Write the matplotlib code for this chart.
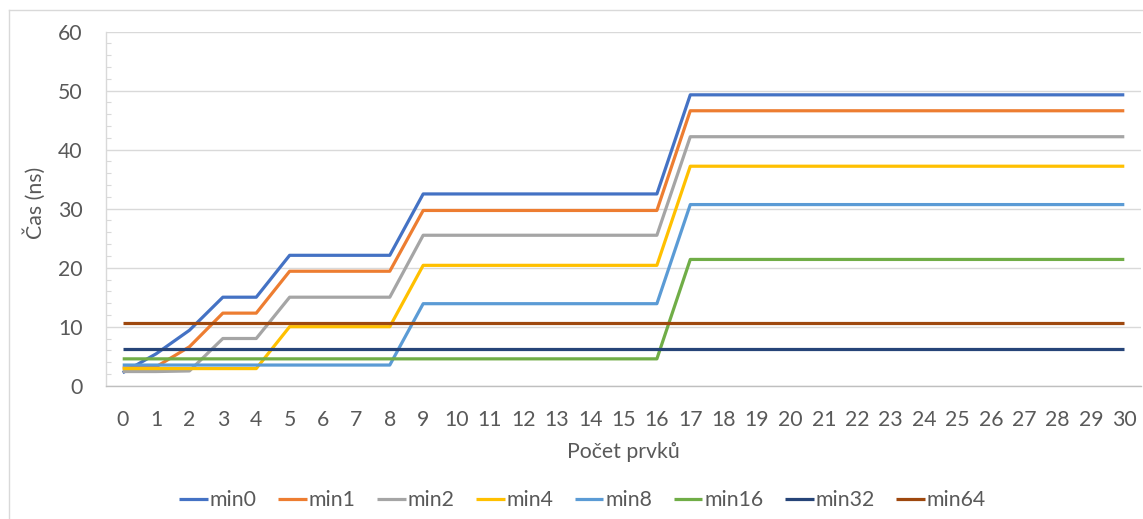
import matplotlib
matplotlib.use("Agg")
import matplotlib.pyplot as plt
from matplotlib.ticker import MultipleLocator
from matplotlib.lines import Line2D

plt.rcParams['font.family'] = ['Lato', 'DejaVu Sans']

x_labels = [str(i) for i in range(31)]
series_names = ["min0", "min1", "min2", "min4", "min8", "min16", "min32", "min64"]

min0 = [2.2, 5.4, 9.4, 15.0, 15.0, 22.1, 22.1, 22.1, 22.1,
        32.5, 32.5, 32.5, 32.5, 32.5, 32.5, 32.5, 32.5,
        49.3, 49.3, 49.3, 49.3, 49.3, 49.3, 49.3, 49.3, 49.3, 49.3, 49.3, 49.3, 49.3, 49.3]
min1 = [3.0, 3.2, 6.6, 12.3, 12.3, 19.4, 19.4, 19.4, 19.4,
        29.7, 29.7, 29.7, 29.7, 29.7, 29.7, 29.7, 29.7,
        46.6, 46.6, 46.6, 46.6, 46.6, 46.6, 46.6, 46.6, 46.6, 46.6, 46.6, 46.6, 46.6, 46.6]
min2 = [2.4, 2.4, 2.5, 8.0, 8.0, 15.0, 15.0, 15.0, 15.0,
        25.5, 25.5, 25.5, 25.5, 25.5, 25.5, 25.5, 25.5,
        42.2, 42.2, 42.2, 42.2, 42.2, 42.2, 42.2, 42.2, 42.2, 42.2, 42.2, 42.2, 42.2, 42.2]
min4 = [2.9, 2.9, 2.9, 2.9, 2.9, 10.0, 10.0, 10.0, 10.0,
        20.4, 20.4, 20.4, 20.4, 20.4, 20.4, 20.4, 20.4,
        37.2, 37.2, 37.2, 37.2, 37.2, 37.2, 37.2, 37.2, 37.2, 37.2, 37.2, 37.2, 37.2, 37.2]
min8 = [3.5, 3.5, 3.5, 3.5, 3.5, 3.5, 3.5, 3.5, 3.5,
        13.9, 13.9, 13.9, 13.9, 13.9, 13.9, 13.9, 13.9,
        30.7, 30.7, 30.7, 30.7, 30.7, 30.7, 30.7, 30.7, 30.7, 30.7, 30.7, 30.7, 30.7, 30.7]
min16 = [4.55, 4.55, 4.55, 4.55, 4.55, 4.55, 4.55, 4.55, 4.55,
         4.55, 4.55, 4.55, 4.55, 4.55, 4.55, 4.55, 4.55,
         21.4, 21.4, 21.4, 21.4, 21.4, 21.4, 21.4, 21.4, 21.4, 21.4, 21.4, 21.4, 21.4, 21.4]
min32 = [6.2, 6.2, 6.2, 6.2, 6.2, 6.2, 6.2, 6.2, 6.2, 6.2, 6.2, 6.2, 6.2, 6.2, 6.2, 6.2,
         6.2, 6.2, 6.2, 6.2, 6.2, 6.2, 6.2, 6.2, 6.2, 6.2, 6.2, 6.2, 6.2, 6.2, 6.2]
min64 = [10.7, 10.7, 10.7, 10.7, 10.7, 10.7, 10.7, 10.7, 10.7, 10.7, 10.7, 10.7, 10.7, 10.7, 10.7, 10.7,
         10.7, 10.7, 10.7, 10.7, 10.7, 10.7, 10.7, 10.7, 10.7, 10.7, 10.7, 10.7, 10.7, 10.7, 10.7]

series = [min0, min1, min2, min4, min8, min16, min32, min64]
colors = ["#4472C4", "#ED7D31", "#A5A5A5", "#FFC000", "#5B9BD5", "#70AD47", "#264478", "#9E480E"]

W, H = 1143, 519
fig = plt.figure(figsize=(W / 100, H / 100), dpi=100)
ax = fig.add_axes([106 / W, 1 - 385.7 / H, (1141 - 106) / W, (385.7 - 31.7) / H])

xs = list(range(len(x_labels)))
for name, vals, c in zip(series_names, series, colors):
    ax.plot(xs, vals, color=c, lw=2.3, label=name, solid_capstyle='butt', solid_joinstyle='round')

text_color = "#595959"
grid_color = "#D9D9D9"

ax.set_xlim(-0.5, len(x_labels) - 0.5)
ax.set_ylim(0, 60)
ax.set_xticks(xs)
ax.set_xticklabels(x_labels)
ax.yaxis.set_major_locator(MultipleLocator(10))
ax.yaxis.set_minor_locator(MultipleLocator(2))

ax.grid(axis='y', which='major', color=grid_color, lw=1.0)
ax.set_axisbelow(True)
for s in ['top', 'right']:
    ax.spines[s].set_visible(False)
ax.spines['left'].set_color(grid_color)
ax.spines['bottom'].set_color("#BFBFBF")
ax.spines['left'].set_linewidth(1.0)
ax.spines['bottom'].set_linewidth(1.0)

ax.tick_params(axis='x', length=0, pad=17.5, labelsize=15.3, labelcolor=text_color)
ax.tick_params(axis='y', which='both', direction='in', length=3.6, width=0.8,
               color=grid_color, pad=16.8, labelsize=15.3, labelcolor=text_color)
ax.tick_params(axis='y', which='major', length=0)

fig.text(35 / W, 1 - 203 / H, "Čas (ns)", rotation=90, ha='center', va='center',
         fontsize=15.3, color=text_color)
fig.text(623.3 / W, 1 - 458.3 / H, "Počet prvků", ha='center', va='baseline',
         fontsize=15.3, color=text_color)

leg = fig.legend(loc='center', bbox_to_anchor=(582.5 / W, 1 - 500.5 / H), ncol=8,
                 frameon=False, fontsize=15.3, handlelength=1.35, handletextpad=0.1,
                 columnspacing=1.0, borderpad=0, borderaxespad=0)
for t in leg.get_texts():
    t.set_color(text_color)

# chart-area border (left and top visible)
fig.add_artist(Line2D([8.5 / W, 8.5 / W], [0, 1 - 10 / H], transform=fig.transFigure,
                      color=grid_color, lw=1.0))
fig.add_artist(Line2D([8.5 / W, 1], [1 - 10 / H, 1 - 10 / H], transform=fig.transFigure,
                      color=grid_color, lw=1.0))

fig.savefig("out.png", dpi=100)
